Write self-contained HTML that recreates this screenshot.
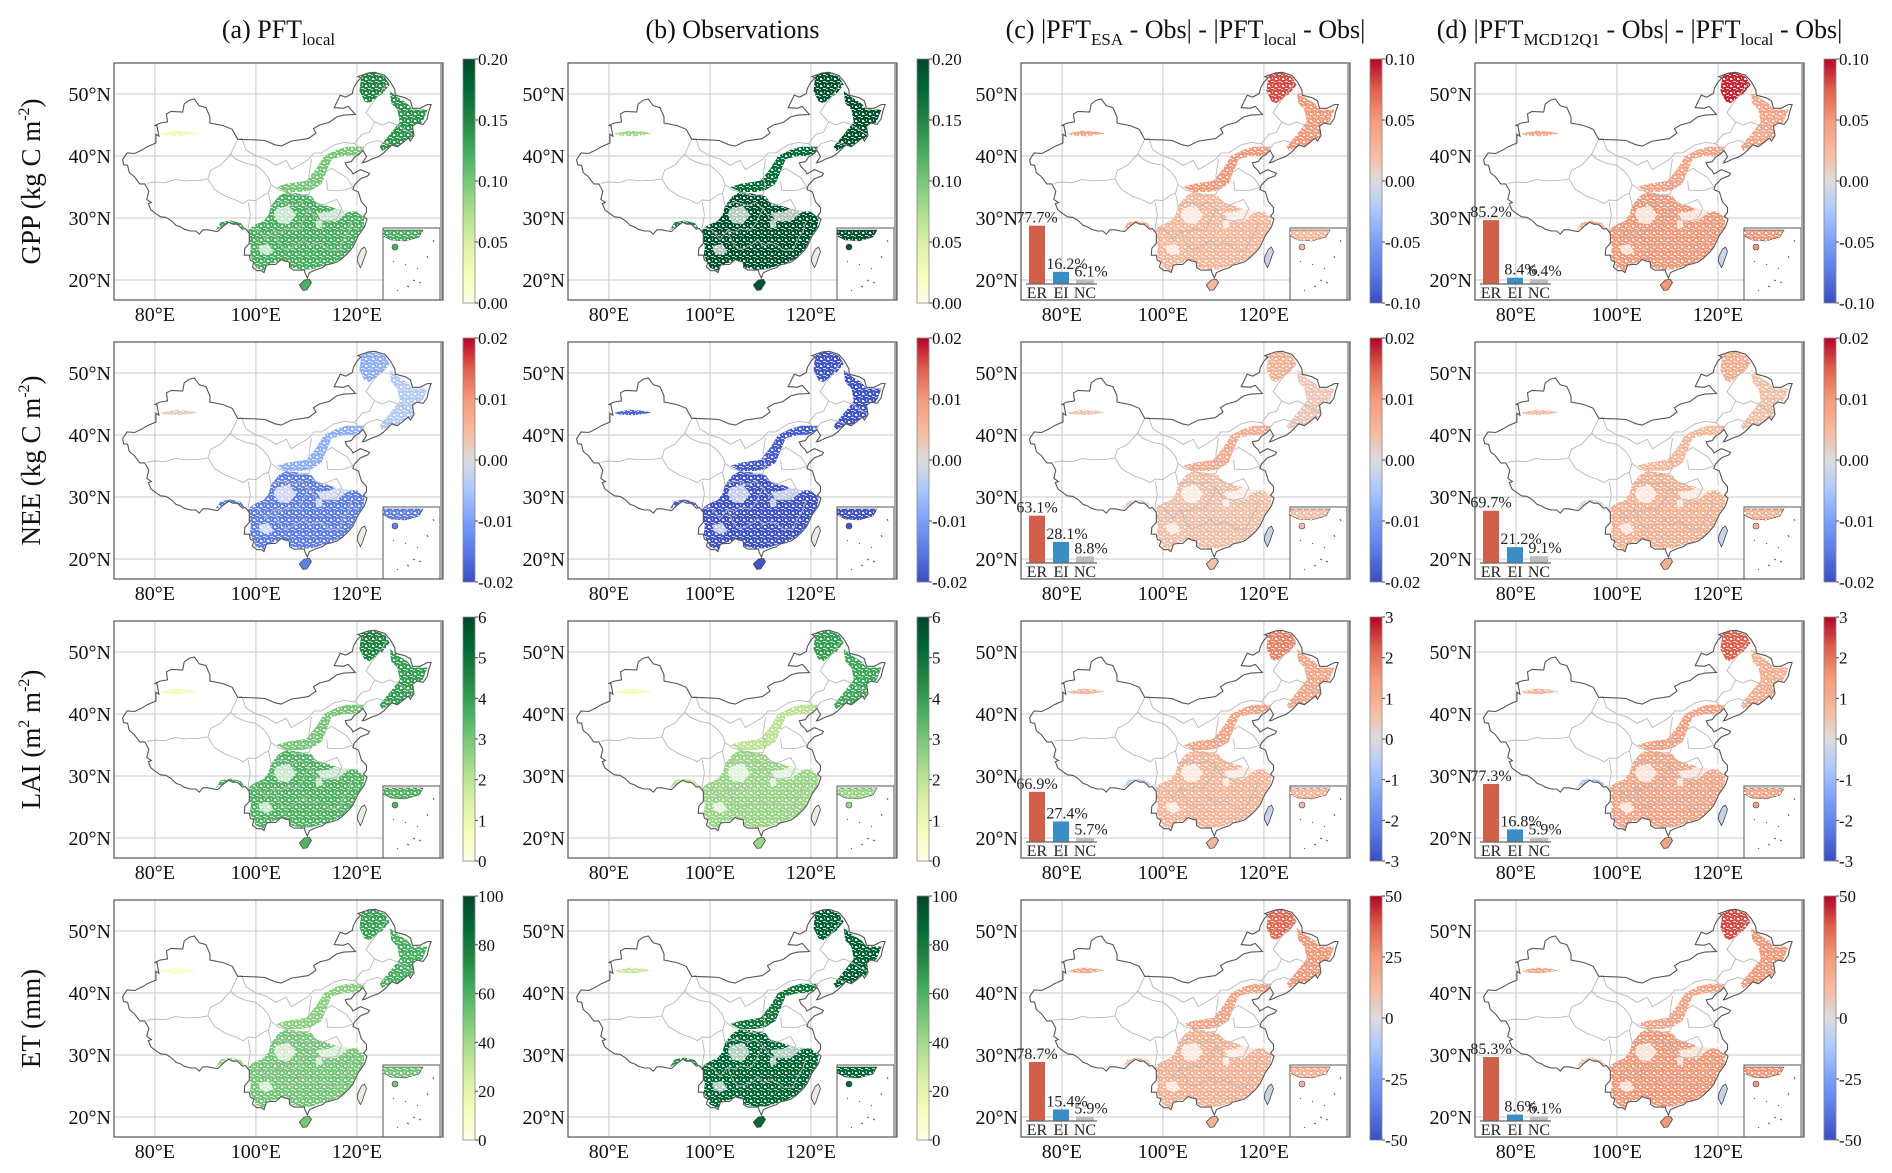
<!DOCTYPE html>
<html><head><meta charset="utf-8">
<style>
html,body{margin:0;padding:0;background:#fff;}
svg{display:block;font-family:"Liberation Serif",serif;}
</style></head>
<body>
<svg id="fig" width="1892" height="1173" viewBox="0 0 1892 1173" xmlns="http://www.w3.org/2000/svg">
<defs>
<pattern id="speck" width="7" height="7" patternUnits="userSpaceOnUse">
<rect x="1" y="1" width="2" height="2" fill="#fff" opacity="0.9"/>
<rect x="4" y="4" width="3" height="1" fill="#fff" opacity="0.8"/>
<rect x="5" y="0" width="1" height="2" fill="#fff" opacity="0.6"/>
<rect x="0" y="5" width="2" height="1" fill="#fff" opacity="0.7"/>
<rect x="3" y="2" width="1" height="1" fill="#fff" opacity="0.5"/>
</pattern>
</defs>
</svg>
<script>
// ---------- data ----------
const colTitles = ['a','b','c','d'];
const rowLabels = ['GPP','NEE','LAI','ET'];
const lonTicks = [80,100,120];
const latTicks = [20,30,40,50];
const regionNames = ['greater-khingan','changbai','south-china','north-china','se-tibet','tianshan'];
const gppVals = [[0.15,0.14,0.12,0.10,0.13,0.03],[0.19,0.19,0.19,0.17,0.15,0.08],[0.08,0.05,0.025,0.05,0.03,0.04],[0.09,0.04,0.05,0.04,0.03,0.04]];
const neeVals = [[-0.008,-0.004,-0.014,-0.008,-0.015,0.002],[-0.019,-0.019,-0.019,-0.018,-0.018,-0.017],[0.006,0.003,0.004,0.007,0.002,0.003],[0.007,0.004,0.006,0.005,0.001,0.004]];
const laiVals = [[4.5,4.0,3.5,3.0,3.5,0.8],[4.0,3.8,2.5,2.0,2.0,0.8],[1.8,1.2,0.8,1.2,-0.5,0.8],[2.2,1.0,1.2,1.3,-0.8,0.8]];
const etVals = [[65,60,50,45,40,10],[90,90,88,80,70,30],[35,25,15,20,10,20],[40,25,25,20,10,20]];
const barCats = ['ER','EI','NC'];
const barC = [[77.7,16.2,6.1],[63.1,28.1,8.8],[66.9,27.4,5.7],[78.7,15.4,5.9]];
const barD = [[85.2,8.4,6.4],[69.7,21.2,9.1],[77.3,16.8,5.9],[85.3,8.6,6.1]];
const tickAB = [['0.00','0.05','0.10','0.15','0.20'],['-0.02','-0.01','0.00','0.01','0.02'],['0','1','2','3','4','5','6'],['0','20','40','60','80','100']];
const tickCD = [['-0.10','-0.05','0.00','0.05','0.10'],['-0.02','-0.01','0.00','0.01','0.02'],['-3','-2','-1','0','1','2','3'],['-50','-25','0','25','50']];
const rangeAB = [[0,0.2],[-0.02,0.02],[0,6],[0,100]];
const rangeCD = [[-0.1,0.1],[-0.02,0.02],[-3,3],[-50,50]];

// ---------- geography (lon,lat) ----------
const china=[[73.6,39.4],[74.5,40.5],[76,40.4],[77.5,41],[78.5,41.5],[80.2,42.1],[80.2,43.5],[80.8,43.2],[80.4,44.9],[79.9,44.9],[81,45.3],[82.5,45.5],[82.3,46.8],[83.2,47.2],[85.5,47.1],[85.8,48.4],[86.8,49],[87.8,49.2],[88.8,48.1],[90.1,47.8],[90.9,46.3],[90.9,45.3],[93.5,44.9],[95.3,44.3],[96.4,42.7],[100,42.6],[101.8,42.5],[103.8,41.8],[105,41.6],[107,42.4],[110.4,42.8],[111.9,43.7],[111.4,44.4],[112.6,45],[114.5,45.4],[116,46.3],[117.4,46.6],[119.7,46.7],[118.3,48],[117.3,47.7],[115.5,47.8],[116.7,49.8],[117.8,49.5],[119.1,50.1],[119.3,50.9],[120,51.9],[120.8,52.6],[120.2,52.8],[122.3,53.4],[123.6,53.5],[125.5,53],[126.6,52],[127.5,50.7],[127.6,49.8],[129.5,49.4],[130.6,48.9],[131,47.7],[132.5,47.7],[134,48.3],[134.7,48.3],[134.2,47.1],[133.9,46],[133.1,45.1],[131.9,45.3],[131,44.8],[131.3,43.3],[130.6,42.4],[130.2,42.9],[129,42.1],[128,41.5],[126.9,41.8],[125.3,40.5],[124.3,39.9],[122.9,39.5],[121.6,39],[121.1,38.9],[121.9,39.9],[121.2,40.9],[120.5,40.3],[119.5,39.8],[118.9,39.1],[117.7,38.9],[118,38.3],[118.9,37.6],[119.2,37.1],[120.7,37.8],[122.5,37.2],[122.2,36.8],[120.7,36.3],[119.5,35.3],[119.2,34.6],[120.3,34.2],[120.9,32.6],[121.9,31.7],[121.9,30.9],[121.3,30.3],[122,29.8],[121.5,28.6],[121,28],[120.3,27.2],[119.6,26],[119.2,25.3],[118.4,24.5],[117.1,23.5],[116.1,22.9],[114.9,22.6],[113.8,22.4],[113.2,22],[112,21.7],[110.6,21.2],[110.2,20.3],[109.7,21.2],[109.6,21.6],[108.5,21.6],[107.5,21.6],[106.7,22],[106.6,22.9],[105.6,23.1],[105,23.3],[103.9,22.5],[103,22.5],[102.1,22.4],[101.6,21.2],[101.1,21.5],[100.2,21.5],[99.3,22.1],[99.6,22.9],[98.9,23.2],[98.7,24],[97.7,24],[97.8,25.1],[98.7,25.9],[98.7,27.5],[97.9,28.3],[97.3,28.2],[96.6,28.8],[96.2,29],[95.4,29],[94.6,29.3],[93.4,28.6],[92.4,27.8],[91.6,27.9],[90.5,28.1],[89.5,28.1],[88.8,27.4],[88.1,27.9],[87,27.9],[85.8,28.2],[85,28.6],[84.2,28.8],[83.2,29.6],[82.2,30.1],[81.1,30.2],[80.2,30.7],[79.2,31.3],[78.7,32.3],[79.3,32.5],[78.4,33],[78.8,34.3],[78,35.5],[77,35.5],[75.9,36.7],[75.1,37.2],[74.9,37.4],[74.6,38.5],[73.8,38.6]];
const hainan=[[108.6,19.2],[109.3,18.3],[110.1,18.4],[111,19.6],[110.6,20.1],[109.6,20.0]];
const taiwan=[[120.1,23],[120.7,22],[121,22.5],[121.9,24.6],[121.5,25.3],[120.9,25],[120.2,23.8]];
const provinces=[
[[78.4,35.6],[80,35.8],[82,35.7],[84,36.2],[86,36],[89,36.1],[90.5,36.3],[91,37.7],[93,38.5],[95,40.3],[96.4,42.7]],
[[90.5,36.3],[91.8,34.6],[93,34],[94,33.5],[96,32.9],[97.5,32.3],[98.5,32.9],[100,32.8],[101.5,33.7],[102.5,34],[103,35.4]],
[[98.5,32.5],[98.9,30.5],[98.6,29],[98.4,28]],
[[95,40.3],[96,39.5],[98,38.8],[100,38.5],[101.5,37.5],[102.5,36.5],[103,35.4],[104.5,34.5],[106,34.2],[108,33.6],[110.5,33.8],[111,35],[110.5,36.8],[111,39.5]],
[[96.4,42.7],[97.2,42.8],[98,41],[100,40],[102,39.5],[104,38.5],[106,39.3],[107,37.8],[108.5,38.5],[110.5,39.5],[111.5,40.5],[113,40.5],[114,41],[115.5,41.8],[117.5,42.2],[119.5,42],[121,43.5],[122.5,43.8],[123.5,45.5],[121.8,47],[123,48.5],[124.5,50],[126,51.8]],
[[102.5,34],[103,32],[105,32.6],[107.5,32],[109,32.5],[110.5,31.5],[109,29],[108,28],[106,28.3],[105,27.7],[103.5,28],[102,26.5],[100.5,28],[99,28.5]],
[[103.5,28],[104.5,26],[105.5,25],[106.5,25],[108.5,25.8],[109.5,26.5],[110.5,25.5],[112,26],[113.5,25.5],[114.5,24.8],[116.5,24.8],[117,26],[118.5,28],[119,29.5]],
[[110.5,31.5],[112,29.8],[114,29.5],[116,29.8],[117,31.5],[116,33],[114.5,32.5],[113,32],[111,33]],
[[114,36],[114.2,34.5],[116,34.4],[117.5,34.5],[119.2,35],[118,36.5],[116,37.5],[115,38],[114,37.5]],
[[123.5,45.5],[125,45],[126.5,45.5],[128,45],[130,44],[131,43.5]],
[[119.5,42],[121,41],[122,42],[124,42.5],[126,42],[126.9,41.8]]];
const regions=[
[[121,53.3],[123.5,53.4],[125.5,52.8],[126.5,51.5],[125,50],[124,49.5],[122.5,48.5],[121.5,48.8],[120.5,50.5],[120.8,52.3]],
[[126.5,50.5],[128,49.5],[130,48.5],[131,47.5],[133,47.5],[134,47.5],[133,45.5],[131.5,44.5],[131,43],[129.5,42.2],[128,41.6],[126.5,41.5],[125,40.8],[124.5,41.5],[125.5,42.5],[127,44],[128.5,45.5],[128,47.5],[126.8,48.5]],
[[98,27.5],[99,25.5],[98.8,24],[100,22],[101.5,21.5],[103,22.6],[105.5,23.2],[107,22],[109,21.7],[111,21.7],[113,22.2],[115,22.7],[117,23.5],[119,25.2],[120,27],[121.3,28.5],[121.5,30],[120,31],[118,31.2],[116,31.5],[114,32],[112,32.5],[111,33.5],[108,34],[106,34.2],[104.5,33.5],[103,32],[102.5,30.5],[101.5,29.5],[100,29],[99,28.5]],
[[104,35],[106,35.5],[110,36],[112,38],[113.5,40],[116,41],[118,41.5],[120,41.5],[121.5,41.5],[121,40.5],[119,40],[117.5,40],[115,39.5],[114,37.5],[113,35.5],[111,34.5],[109,34.2],[106,34.2]],
[[92,28],[93,29.3],[95,29.6],[97,29.2],[97.8,28.3],[96,28.6],[94.5,29],[93,28.5]],
[[81,43.6],[84,44.1],[87,43.9],[88.5,43.6],[85,43.2],[82,43.3]]];
const holes=[
[[104,31.5],[106.5,32],[108,30.5],[106.5,29],[104.5,29.2],[103.5,30.5]],
[[112,30.8],[114.5,31],[117,32],[119.5,32.3],[120.5,31.5],[118,30.8],[116,29.5],[113,29.5]],
[[111.8,29.5],[113,29.8],[113.2,28.5],[112,28.3]],
[[100.5,25.5],[102.5,25.8],[103.5,24.5],[102,24],[100.8,24.5]],
[[125.5,45],[127,46.5],[126.5,48],[125,47.5],[124.8,46]]];

// ---------- helpers ----------
const SVGNS='http://www.w3.org/2000/svg';
const svg=document.getElementById('fig');
function mk(tag,attrs,parent){const e=document.createElementNS(SVGNS,tag);for(const k in attrs)e.setAttribute(k,attrs[k]);(parent||svg).appendChild(e);return e;}
const YlGn=['#ffffe5','#f7fcb9','#d9f0a3','#addd8e','#78c679','#41ab5d','#238443','#006837','#004529'];
const coolwarm=['#3b4cc0','#5b7ae5','#7b9ff9','#aac7fd','#dddcdc','#f7b89c','#f49a7b','#de604d','#b40426'];
function hex(c){return [parseInt(c.substr(1,2),16),parseInt(c.substr(3,2),16),parseInt(c.substr(5,2),16)];}
function cmap(stops,t){t=Math.max(0,Math.min(1,t));const f=t*(stops.length-1);const i=Math.min(stops.length-2,Math.floor(f));const u=f-i;const a=hex(stops[i]),b=hex(stops[i+1]);return 'rgb('+a.map((v,k)=>Math.round(v+(b[k]-v)*u)).join(',')+')';}
const BW=329,BH=237;
const colX=[114,568,1021,1475];
const rowY=[63,342,621,900];
function proj(p,lon,lat){return [p.x+(lon-71.9)*5.05,p.y+(55-lat)*6.2];}
function pathOf(p,pts,close){return 'M'+pts.map(q=>proj(p,q[0],q[1]).map(v=>v.toFixed(1)).join(',')).join('L')+(close?'Z':'');}
const allVals=[gppVals,neeVals,laiVals,etVals];

// ---------- titles ----------
const titleHTML=[
 ['(a) PFT',[['local',1]]],
 ['(b) Observations',[]],
 ['(c) |PFT',[['ESA',1],[' - Obs| - |PFT',0],['local',1],[' - Obs|',0]]],
 ['(d) |PFT',[['MCD12Q1',1],[' - Obs| - |PFT',0],['local',1],[' - Obs|',0]]]];
titleHTML.forEach((t,c)=>{
 const tx=mk('text',{x:colX[c]+BW/2,y:38,'text-anchor':'middle','font-size':26,fill:'#111'});
 
 
 tx.appendChild(document.createTextNode(t[0]));
 t[1].forEach(s=>{const ts=mk('tspan',{},tx);if(s[1]){ts.setAttribute('font-size',17);ts.setAttribute('dy',7);}else{ts.setAttribute('dy',-7);}ts.textContent=s[0];});
});
const rowMain=['GPP (kg C m','NEE (kg C m'];
rowLabels.forEach((r,ri)=>{
 const cy=rowY[ri]+BH/2;
 const tx=mk('text',{x:0,y:0,transform:'translate(40,'+cy+') rotate(-90)','text-anchor':'middle','font-size':27,fill:'#111'});
 
 
 if(ri<2){tx.appendChild(document.createTextNode(rowMain[ri]));const s=mk('tspan',{'font-size':16,dy:-11},tx);s.textContent='-2';const e=mk('tspan',{dy:11},tx);e.textContent=')';}
 else if(ri==2){tx.appendChild(document.createTextNode('LAI (m'));const s=mk('tspan',{'font-size':16,dy:-11},tx);s.textContent='2';const m=mk('tspan',{dy:11},tx);m.textContent=' m';const s2=mk('tspan',{'font-size':16,dy:-11},tx);s2.textContent='-2';const e=mk('tspan',{dy:11},tx);e.textContent=')';}
 else tx.textContent='ET (mm)';
});

// ---------- panels ----------
for(let ri=0;ri<4;ri++){for(let ci=0;ci<4;ci++){
 const p={x:colX[ci],y:rowY[ri]};
 const g=mk('g',{});
 
 
 mk('rect',{x:p.x,y:p.y,width:BW,height:BH,fill:'#fff'},g);
 const cpid='clip'+ri+ci;
 const cp=mk('clipPath',{id:cpid},g);
 mk('rect',{x:p.x,y:p.y,width:BW,height:BH},cp);
 const ccid='cc'+ri+ci;
 const cc=mk('clipPath',{id:ccid},g);
 mk('path',{d:pathOf(p,china,true)},cc);
 const inner=mk('g',{'clip-path':'url(#'+cpid+')'},g);
 lonTicks.forEach(l=>{const x=proj(p,l,0)[0];const ln=mk('line',{x1:x,x2:x,y1:p.y,y2:p.y+BH,stroke:'#d4d4d4','stroke-width':1.3},inner);});
 latTicks.forEach(l=>{const y=proj(p,0,l)[1];const ln=mk('line',{x1:p.x,x2:p.x+BW,y1:y,y2:y,stroke:'#d4d4d4','stroke-width':1.3},inner);});
 const isDiff=ci>=2;
 const rng=isDiff?rangeCD[ri]:rangeAB[ri];
 const stops=(isDiff||ri==1)?coolwarm:YlGn;
 const vals=allVals[ri][ci];
 const rg=mk('g',{'clip-path':'url(#'+ccid+')'},inner);
 regions.forEach((reg,k)=>{
  const col=cmap(stops,(vals[k]-rng[0])/(rng[1]-rng[0]));
  const d=pathOf(p,reg,true);
  const r=mk('path',{d:d,fill:col},rg);
  
  
  mk('path',{d:d,fill:'url(#speck)'},rg);
 });
 holes.forEach(h=>{mk('path',{d:pathOf(p,h,true),fill:'#fff',opacity:0.7},rg);});
 const scCol=cmap(stops,(vals[2]-rng[0])/(rng[1]-rng[0]));
 mk('path',{d:pathOf(p,hainan,true),fill:scCol,stroke:'#444','stroke-width':0.8},inner);
 mk('path',{d:pathOf(p,taiwan,true),fill:isDiff?'#c8d4ea':'#e8eee0',stroke:'#444','stroke-width':0.8},inner);
 provinces.forEach(pl=>{const pv=mk('path',{d:pathOf(p,pl,false),fill:'none',stroke:'#b8b8b8','stroke-width':0.9},inner);});
 const ch=mk('path',{d:pathOf(p,china,true),fill:'none',stroke:'#555','stroke-width':1.1},inner);
 
 
 const ix=p.x+269,iy=p.y+165,iw=57,ih=BH-165;
 const ins=mk('rect',{x:ix,y:iy,width:iw,height:ih,fill:'#fff',stroke:'#555','stroke-width':1},g);
 
 
 mk('path',{d:'M'+ix+','+(iy+2)+' L'+(ix+40)+','+(iy+2)+' L'+(ix+36)+','+(iy+9)+' L'+(ix+22)+','+(iy+13)+' L'+(ix+8)+','+(iy+12)+' L'+ix+','+(iy+8)+'Z',fill:scCol,stroke:'#444','stroke-width':0.6},g);
 mk('path',{d:'M'+ix+','+(iy+2)+' L'+(ix+40)+','+(iy+2)+' L'+(ix+36)+','+(iy+9)+' L'+(ix+22)+','+(iy+13)+' L'+(ix+8)+','+(iy+12)+' L'+ix+','+(iy+8)+'Z',fill:'url(#speck)'},g);
 mk('ellipse',{cx:ix+12,cy:iy+19,rx:3,ry:3,fill:scCol,stroke:'#444','stroke-width':0.6},g);
 mk('path',{d:'M'+(ix+10)+','+(iy+33)+'l1,1 M'+(ix+22)+','+(iy+36)+'l1,1 M'+(ix+34)+','+(iy+40)+'l1,1 M'+(ix+30)+','+(iy+52)+'l2,1 M'+(ix+36)+','+(iy+54)+'l2,1 M'+(ix+24)+','+(iy+58)+'l2,1 M'+(ix+14)+','+(iy+62)+'l1,1 M'+(ix+44)+','+(iy+28)+'l1,2 M'+(ix+50)+','+(iy+12)+'l1,2',stroke:'#666','stroke-width':1,fill:'none'},g);
 mk('rect',{x:p.x+BW-3,y:p.y+1,width:3,height:BH-2,fill:'#aaa'},g);
 const bx=mk('rect',{x:p.x,y:p.y,width:BW,height:BH,fill:'none',stroke:'#555','stroke-width':1.2},g);
 
 
 latTicks.forEach(l=>{const y=proj(p,0,l)[1];const t=mk('text',{x:p.x-3,y:y+7,'text-anchor':'end','font-size':20,fill:'#111'});t.textContent=l+'°N';});
 lonTicks.forEach(l=>{const x=proj(p,l,0)[0];const t=mk('text',{x:x,y:p.y+BH+21,'text-anchor':'middle','font-size':20,fill:'#111'});t.textContent=l+'°E';});
 if(isDiff){
  const bv=(ci==2?barC:barD)[ri];
  const base=p.y+221;
  const bcols=['#d0604a','#3a8ec4','#bdbdbd'];
  const bxs=[8,32,55], bws=[16,16,18];
  bv.forEach((v,k)=>{
   const h=v*0.75;
   const b=mk('rect',{x:p.x+bxs[k],y:base-h,width:bws[k],height:h,fill:bcols[k]},g);
   
   
   const lb=mk('text',{x:p.x+bxs[k]+bws[k]/2+(k?6:0),y:base-h-3,'text-anchor':'middle','font-size':16,fill:'#222'},g);
   
   
   lb.textContent=v.toFixed(1)+'%';
   const cl=mk('text',{x:p.x+bxs[k]+bws[k]/2,y:base+14,'text-anchor':'middle','font-size':16,fill:'#222'},g);
   
   
   cl.textContent=barCats[k];
  });
  mk('line',{x1:p.x+5,x2:p.x+76,y1:base,y2:base,stroke:'#666','stroke-width':1.2},g);
 }
 const cx=p.x+349,cy0=p.y-4,ch2=BH+7;
 const gid='grad'+ri+ci;
 const lg=mk('linearGradient',{id:gid,x1:0,y1:1,x2:0,y2:0},g);
 for(let s=0;s<=16;s++){mk('stop',{offset:(s/16),'stop-color':cmap(stops,s/16)},lg);}
 const cb=mk('rect',{x:cx,y:cy0,width:12,height:ch2,fill:'url(#'+gid+')',stroke:'#888','stroke-width':0.8},g);
 
 
 const ticks=isDiff?tickCD[ri]:tickAB[ri];
 ticks.forEach((tk,k)=>{const y=cy0+ch2-k*ch2/(ticks.length-1);
  mk('line',{x1:cx+12,x2:cx+15,y1:y,y2:y,stroke:'#444','stroke-width':1},g);
  const t=mk('text',{x:cx+15,y:y+6,'font-size':17,fill:'#111'},g);
  
  
  t.textContent=tk;});
}}
</script>
</body></html>
